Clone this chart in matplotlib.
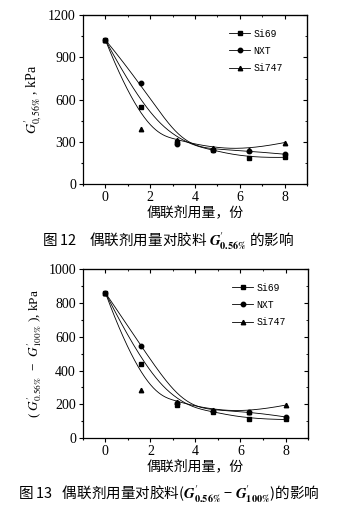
import numpy as np
import matplotlib
matplotlib.use("Agg")
import matplotlib.pyplot as plt
from matplotlib.lines import Line2D
from matplotlib.ticker import MultipleLocator

plt.rcParams['mathtext.fontset'] = 'stix'
plt.rcParams['font.family'] = ['Liberation Serif', 'Noto Sans CJK SC']

# ---- data ----
dosage = [0, 1.6, 3.2, 4.8, 6.4, 8]
series_names = ["Si69", "NXT", "Si747"]
markers = ["s", "o", "^"]

g056_si69 = [1025, 550, 300, 240, 185, 190]
g056_nxt = [1025, 715, 288, 245, 235, 212]
g056_si747 = [1025, 388, 312, 255, 245, 295]

dg_si69 = [860, 437, 195, 155, 112, 110]
dg_nxt = [860, 546, 205, 160, 157, 125]
dg_si747 = [860, 286, 212, 165, 155, 195]

xticks = [0, 2, 4, 6, 8]
top_yticks = [0, 300, 600, 900, 1200]
bot_yticks = [0, 200, 400, 600, 800, 1000]


def bspline(xs, ys, n=200):
    """Clamped cubic B-spline using data points as control points."""
    P = np.column_stack([xs, ys]).astype(float)
    m = len(P)
    k = 3
    inner = np.linspace(0, 1, m - k + 1)[1:-1]
    knots = np.concatenate([[0] * (k + 1), inner, [1] * (k + 1)])
    t = np.linspace(0, 1, n)
    t[-1] = 1 - 1e-12

    def basis(i, p, tt):
        if p == 0:
            return ((knots[i] <= tt) & (tt < knots[i + 1])).astype(float)
        a = 0.0
        d1 = knots[i + p] - knots[i]
        if d1 > 0:
            a = (tt - knots[i]) / d1 * basis(i, p - 1, tt)
        b = 0.0
        d2 = knots[i + p + 1] - knots[i + 1]
        if d2 > 0:
            b = (knots[i + p + 1] - tt) / d2 * basis(i + 1, p - 1, tt)
        return a + b

    B = np.array([basis(i, k, t) for i in range(m)])
    C = B.T @ P
    return C[:, 0], C[:, 1]


fig = plt.figure(figsize=(3.37, 5.07), dpi=100)

ax1 = fig.add_axes([0.246, 0.637, 0.665, 0.333])
ax2 = fig.add_axes([0.246, 0.136, 0.668, 0.333])


def draw(ax, data, yticks, ylim, minor_y, legend_y):
    for name, mk, ys in zip(series_names, markers, data):
        bx, by = bspline(dosage, ys)
        ax.plot(bx, by, color='black', lw=0.6)
        ax.plot(dosage, ys, linestyle='none', marker=mk, color='black', ms=3.2)
    ax.set_xlim(-1, 9)
    ax.set_ylim(*ylim)
    ax.set_xticks(xticks)
    ax.set_yticks(yticks)
    ax.xaxis.set_minor_locator(MultipleLocator(1))
    ax.yaxis.set_minor_locator(MultipleLocator(minor_y))
    ax.tick_params(which='major', direction='out', length=3, width=0.8, labelsize=10, pad=2)
    ax.tick_params(which='minor', direction='out', length=1.5, width=0.8)
    for s in ax.spines.values():
        s.set_linewidth(0.9)
    for lab in ax.get_xticklabels() + ax.get_yticklabels():
        lab.set_fontfamily('Liberation Serif')
    top = ax.secondary_xaxis('top')
    top.set_xticks(xticks)
    top.xaxis.set_minor_locator(MultipleLocator(1))
    top.tick_params(which='major', direction='in', length=3, labeltop=False)
    top.tick_params(which='minor', direction='in', length=1.5)
    right = ax.secondary_yaxis('right')
    right.set_yticks(yticks)
    right.yaxis.set_minor_locator(MultipleLocator(minor_y))
    right.tick_params(which='major', direction='in', length=3, labelright=False)
    right.tick_params(which='minor', direction='in', length=1.5)
    handles = [Line2D([], [], color='black', lw=0.6, marker=mk, ms=3.2) for mk in markers]
    ax.legend(handles, series_names, loc='upper left', bbox_to_anchor=legend_y,
              frameon=False, prop={'family': 'Liberation Mono', 'size': 7},
              handlelength=2.2, handletextpad=0.3, labelspacing=0.75, borderpad=0)
    ax.set_xlabel('偶联剂用量，份', family=['Noto Sans CJK SC'], fontsize=10, labelpad=1)


draw(ax1, [g056_si69, g056_nxt, g056_si747], top_yticks, (0, 1200), 150, (0.63, 0.95))
draw(ax2, [dg_si69, dg_nxt, dg_si747], bot_yticks, (0, 1000), 100, (0.64, 0.95))

ax1.set_ylabel(r"$G^{\prime}_{0,56\%}$ , kPa", fontsize=10, family='Liberation Serif', labelpad=3)
ax2.set_ylabel(r"( $G^{\prime}_{0.56\%}$  −  $G^{\prime}_{100\%}$ ), kPa", fontsize=9.5,
               family=['Liberation Serif', 'Noto Sans CJK SC'], labelpad=3)

fig.text(0.5, 1 - 241 / 507, r"图 12    偶联剂用量对胶料 $\mathbfit{G}^{\prime}_{\mathbf{0.56\%}}$ 的影响",
         ha='center', va='center', fontsize=10.5, family=['Noto Sans CJK SC'])
fig.text(0.5, 1 - 494 / 507,
         r"图 13   偶联剂用量对胶料($\mathbfit{G}^{\prime}_{\mathbf{0.56\%}}$ − $\mathbfit{G}^{\prime}_{\mathbf{100\%}}$)的影响",
         ha='center', va='center', fontsize=10.5, family=['Noto Sans CJK SC', 'DejaVu Sans'])

fig.savefig('out.png', dpi=100)
